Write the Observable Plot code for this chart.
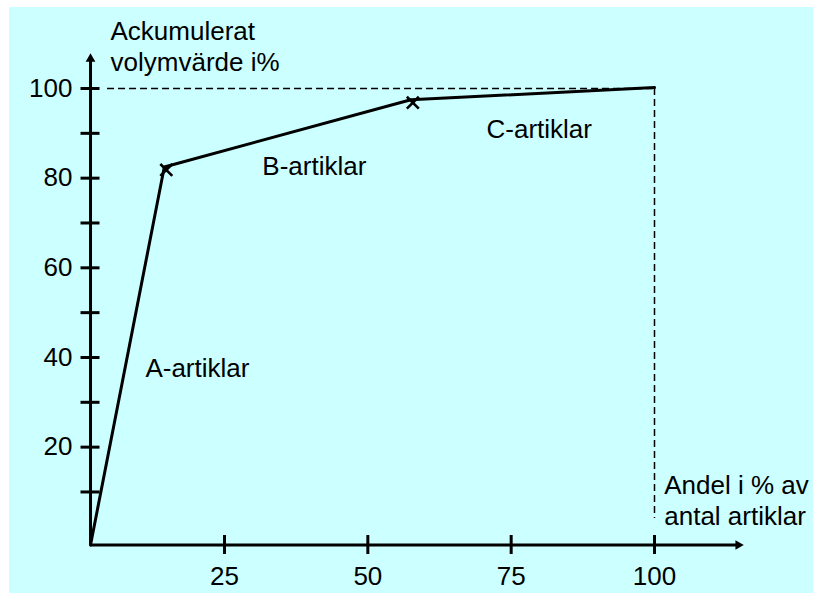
<!DOCTYPE html>
<html>
<head>
<meta charset="utf-8">
<script src="https://cdn.jsdelivr.net/npm/d3@7"></script>
<script src="https://cdn.jsdelivr.net/npm/@observablehq/plot@0.6"></script>
<style>
  html, body { margin: 0; padding: 0; background: #ffffff; }
  #chart svg { display: block; margin: 7px 0 0 9px; }
</style>
</head>
<body>
<div id="chart"></div>
<script>
// ---- data ----
const xTickValues = [25, 50, 75, 100];
const xTickLabels = ["25", "50", "75", "100"];
const yTickValues = [10, 20, 30, 40, 50, 60, 70, 80, 90, 100];
const yLabelValues = [20, 40, 60, 80, 100];
const yLabelTexts = ["20", "40", "60", "80", "100"];

// axis origin (drawn slightly off the 0,0 of the scales, as in the picture)
const axisX0 = 1.63;
const axisY0 = -1.83;
const xAxisEnd = 114.6;
const yAxisEnd = 106.6;

// cumulative curve (ABC analysis)
const curveX = [axisX0, 14.5, 57.5, 100];
const curveY = [axisY0, 82.5, 97.5, 100.2];
const breakX = [14.5, 57.5];
const breakY = [82.5, 97.5];

// guide lines at 100 %
const guideH = {x1: 4.6, x2: 100, y: 100};
const guideV = {x: 100, y1: 100, y2: 4.1};

// annotation labels
const labelTexts = ["Ackumulerat\nvolymvärde i%", "A-artiklar", "B-artiklar", "C-artiklar", "Andel i % av\nantal artiklar"];
const labelX = [5.12, 11.2, 31.6, 70.7, 101.7];
const labelY = [109.6, 37.8, 83.0, 91.1, 8.4];

// ---- build ----
const curve = curveX.map((x, i) => ({x, y: curveY[i]}));
const breaks = breakX.map((x, i) => ({x, y: breakY[i]}));
const labels = labelTexts.map((t, i) => ({t, x: labelX[i], y: labelY[i]}));
const xTicks = xTickValues.map((v, i) => ({v, label: xTickLabels[i]}));
const yLabels = yLabelValues.map((v, i) => ({v, label: yLabelTexts[i]}));

const font = "'Liberation Sans', Arial, sans-serif";

const chart = Plot.plot({
  width: 804,
  height: 586,
  x: {domain: [0, 100], range: [71.67, 645], axis: null},
  y: {domain: [0, 100], range: [529.3, 81], axis: null},
  style: {background: "#ccffff", fontFamily: font, fontSize: "26px", color: "black"},
  marks: [
    // dashed 100 % guides
    Plot.ruleY([guideH], {x1: "x1", x2: "x2", y: "y", stroke: "black", strokeWidth: 1.5, strokeDasharray: "7,4"}),
    Plot.ruleX([guideV], {x: "x", y1: "y1", y2: "y2", stroke: "black", strokeWidth: 1.5, strokeDasharray: "7,4"}),
    // axes
    Plot.ruleX([axisX0], {y1: axisY0, y2: yAxisEnd, stroke: "black", strokeWidth: 3}),
    Plot.ruleY([axisY0], {x1: axisX0, x2: xAxisEnd, stroke: "black", strokeWidth: 3}),
    Plot.dot([{x: axisX0, y: yAxisEnd}], {x: "x", y: "y", symbol: "triangle", r: 3.6, fill: "black", stroke: "none", rotate: 0}),
    Plot.dot([{x: xAxisEnd, y: axisY0}], {x: "x", y: "y", symbol: "triangle", r: 3.6, fill: "black", stroke: "none", rotate: 90}),
    // ticks
    Plot.ruleY(yTickValues, {y: d => d, x1: axisX0, x2: axisX0, insetLeft: -9.5, insetRight: -9.5, stroke: "black", strokeWidth: 3}),
    Plot.ruleX(xTickValues, {x: d => d, y1: axisY0, y2: axisY0, insetTop: -9.5, insetBottom: -9.5, stroke: "black", strokeWidth: 3}),
    // tick labels
    Plot.text(yLabels, {x: axisX0, y: "v", text: "label", textAnchor: "end", dx: -18, fontSize: 26, fill: "black"}),
    Plot.text(xTicks, {x: "v", y: axisY0, text: "label", dy: 32, fontSize: 26, fill: "black"}),
    // curve
    Plot.line(curve, {x: "x", y: "y", stroke: "black", strokeWidth: 3, strokeLinejoin: "miter"}),
    Plot.dot(breaks, {x: "x", y: "y", symbol: "times", r: 5.5, stroke: "black", strokeWidth: 2.6, dx: 2, dy: 3}),
    // annotations
    Plot.text(labels, {x: "x", y: "y", text: "t", textAnchor: "start", lineHeight: 1.2, fontSize: 26, fill: "black"})
  ]
});
document.getElementById("chart").appendChild(chart);
</script>
</body>
</html>
